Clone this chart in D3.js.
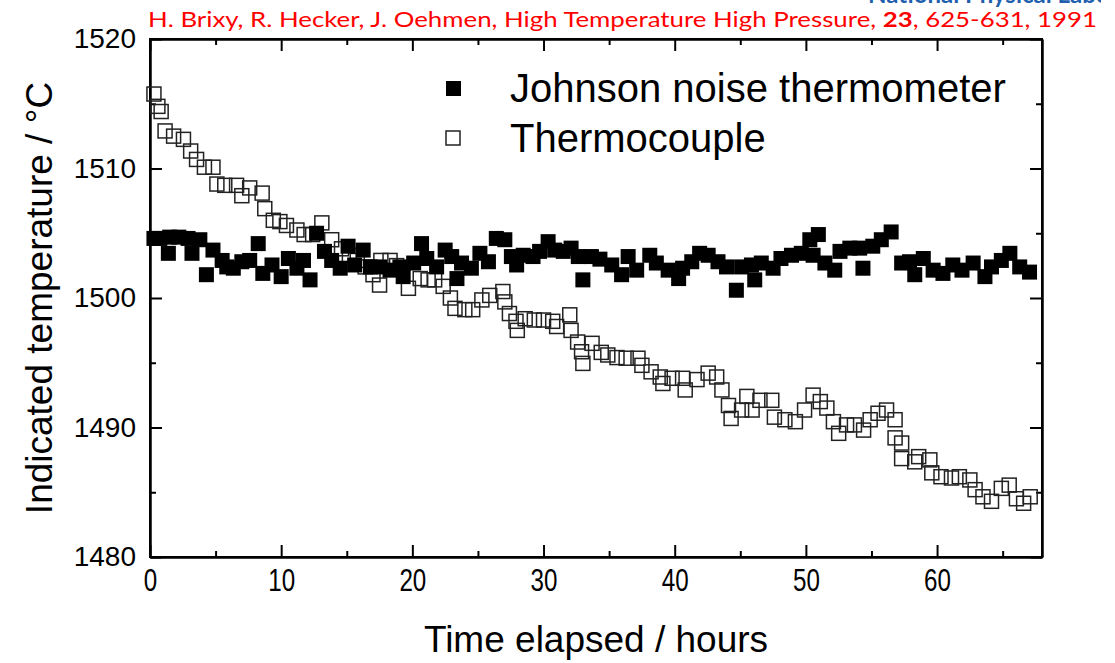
<!DOCTYPE html>
<html>
<head>
<meta charset="utf-8">
<script src="https://cdn.jsdelivr.net/npm/d3@7"></script>
<style>
  body { margin: 0; background: #fff; }
  svg { display: block; }
  .axis path, .axis line { stroke: #000; stroke-width: 2; }
  .axis text { font-family: "Liberation Sans", Arial, sans-serif; fill: #000; }
</style>
</head>
<body>
<script>
// Johnson noise thermometer (filled squares), hours / deg C
var jntHours = [0.3,0.75,1.4,1.5,2.2,2.9,3.2,3.8,4.3,4.8,5.5,5.85,6.35,7.0,7.6,8.25,8.6,9.3,10.0,10.55,
  11.2,11.7,12.2,12.7,13.3,13.85,14.5,15.1,15.6,16.25,16.8,17.5,18.3,19.05,19.3,20.1,20.7,21.1,21.85,22.5,
  23.0,23.4,23.75,24.5,25.15,25.8,26.4,27.05,27.55,27.95,28.45,29.2,29.7,30.35,30.85,31.5,32.1,32.65,33.0,33.65,
  34.3,35.2,35.95,36.45,37.1,38.1,38.6,39.5,40.3,40.6,41.3,41.9,42.55,43.3,43.95,44.7,45.1,45.85,46.1,46.6,
  47.5,48.1,48.9,49.65,50.3,50.55,50.95,51.45,52.2,52.6,53.35,54.1,54.35,55.1,55.75,56.5,57.3,57.9,58.3,58.95,
  59.7,60.45,61.2,61.9,62.75,63.65,64.15,64.9,65.55,66.3,67.05];
var jntTemp = [1504.6,1504.6,1503.45,1504.7,1504.7,1504.6,1503.45,1504.5,1501.8,1503.7,1502.9,1502.4,1502.3,1502.8,1502.9,1504.2,1501.9,1502.55,1501.65,1503.05,
  1502.3,1502.9,1501.4,1505.0,1503.6,1502.9,1502.3,1504.0,1502.55,1503.7,1502.4,1502.4,1502.15,1502.4,1501.65,1502.7,1504.2,1503.05,1502.4,1503.7,
  1503.2,1501.5,1502.7,1502.3,1503.45,1502.8,1504.6,1504.5,1503.2,1502.55,1503.3,1503.2,1503.6,1504.35,1503.7,1503.6,1503.85,1503.2,1501.4,1503.2,
  1503.0,1502.55,1501.8,1503.2,1502.15,1503.3,1502.7,1502.15,1501.5,1502.3,1502.8,1503.45,1503.3,1502.8,1502.4,1500.6,1502.4,1502.55,1501.4,1502.7,
  1502.3,1503.05,1503.3,1503.45,1504.5,1503.3,1504.9,1502.7,1502.15,1503.6,1503.85,1503.85,1502.3,1504.0,1504.5,1505.1,1502.7,1502.8,1501.8,1503.05,
  1502.15,1501.9,1502.55,1502.15,1502.7,1501.65,1502.4,1502.9,1503.45,1502.4,1502.0];

// Thermocouple (open squares)
var tcHours = [0.3,0.6,0.85,1.15,1.8,2.55,3.1,3.55,4.15,4.8,5.1,5.7,6.6,7.0,7.6,8.55,8.75,9.4,9.9,10.4,
  11.2,11.75,12.4,13.1,13.85,14.6,15.2,15.8,16.4,17.0,17.5,17.6,18.3,18.8,19.7,20.6,21.2,21.7,22.35,22.9,
  23.25,24.0,24.6,25.3,25.9,26.9,27.05,27.4,27.9,28.0,28.6,29.3,30.0,30.7,31.0,32.0,32.1,32.6,32.9,33.0,
  33.7,34.4,34.9,35.6,36.3,37.2,37.5,38.2,38.9,39.1,39.8,40.6,40.8,41.7,42.55,43.2,43.6,44.1,44.3,45.1,
  45.5,45.9,46.5,47.4,47.6,48.4,49.2,49.9,50.55,51.1,51.6,52.1,52.5,53.1,53.7,54.4,54.9,55.5,56.15,56.8,
  56.8,57.3,57.3,58.3,58.6,59.45,59.6,60.3,61.1,61.7,62.5,62.9,63.5,64.15,64.9,65.5,66.05,66.6,67.1];
var tcTemp = [1515.75,1514.8,1514.4,1512.9,1512.5,1512.25,1511.35,1510.7,1510.1,1510.1,1508.8,1508.7,1508.7,1507.9,1508.5,1508.1,1506.9,1506.0,1505.9,1505.6,
  1505.25,1504.9,1504.9,1505.8,1504.5,1503.8,1503.3,1502.9,1502.4,1501.8,1501.0,1502.9,1502.9,1502.5,1500.75,1501.5,1501.4,1501.4,1500.9,1500.0,
  1499.2,1499.1,1499.1,1499.85,1500.2,1500.5,1499.7,1498.8,1498.2,1497.5,1498.4,1498.3,1498.3,1498.2,1497.8,1498.7,1497.5,1496.6,1495.85,1494.95,
  1496.5,1495.8,1495.6,1495.4,1495.35,1495.35,1494.8,1494.3,1493.9,1493.4,1493.8,1493.8,1492.9,1493.7,1494.2,1493.9,1492.9,1491.7,1490.7,1491.35,
  1492.4,1491.35,1492.1,1492.1,1490.8,1490.6,1490.45,1491.35,1492.5,1492.0,1491.5,1490.45,1489.55,1490.2,1490.2,1489.8,1490.6,1491.1,1491.35,1490.6,
  1489.2,1488.8,1487.6,1487.35,1487.75,1487.5,1486.5,1486.2,1486.1,1486.2,1485.95,1485.2,1484.65,1484.3,1485.3,1485.55,1484.5,1484.15,1484.65];

var xMajor = [0, 10, 20, 30, 40, 50, 60];
var xMinor = [5, 15, 25, 35, 45, 55, 65];
var yMajor = [1480, 1490, 1500, 1510, 1520];
var yMinor = [1485, 1495, 1505, 1515];
var seriesNames = ["Johnson noise thermometer", "Thermocouple"];

var W = 1115, H = 663;
var margin = {top: 39, right: 73, bottom: 106, left: 150},
    width = W - margin.left - margin.right,
    height = H - margin.top - margin.bottom;

var svg = d3.select("body").append("svg")
    .attr("width", W)
    .attr("height", H);

// source lines at the top (the blue one is cut by the top edge, as in the original)
svg.append("clipPath").attr("id", "topclip")
  .append("rect").attr("x", 0).attr("y", 0).attr("width", 1101).attr("height", H);
svg.append("text")
    .attr("clip-path", "url(#topclip)")
    .attr("x", 868).attr("y", 3)
    .attr("font-family", "Lato, 'Open Sans', sans-serif")
    .attr("font-weight", "bold")
    .attr("font-size", 24)
    .attr("fill", "#1f5fae")
    .text("National Physical Laboratory");

var cite = svg.append("text")
    .attr("x", 148).attr("y", 27)
    .attr("font-family", "Lato, 'Open Sans', sans-serif")
    .attr("font-size", 21)
    .attr("fill", "#ff0000")
    .attr("textLength", 949)
    .attr("lengthAdjust", "spacingAndGlyphs");
cite.append("tspan").text("H. Brixy, R. Hecker, J. Oehmen, High Temperature High Pressure, ");
cite.append("tspan").attr("font-weight", "bold").text("23");
cite.append("tspan").text(", 625-631, 1991");

var g = svg.append("g")
    .attr("transform", "translate(" + margin.left + "," + margin.top + ")");

var x = d3.scaleLinear().domain([0, 68]).range([0, width]);
var y = d3.scaleLinear().domain([1480, 1520]).range([height, 0]);

// axes, ticks pointing inwards on all four sides
g.append("g").attr("class", "axis")
  .attr("transform", "translate(0," + height + ")")
  .call(d3.axisBottom(x).tickValues(xMajor).tickSize(-12).tickPadding(12).tickSizeOuter(0))
  .selectAll("text")
    .attr("font-size", 31)
    .attr("transform", "scale(0.78,1)");
g.append("g").attr("class", "axis")
  .attr("transform", "translate(0," + height + ")")
  .call(d3.axisBottom(x).tickValues(xMinor).tickSize(-6).tickFormat("").tickSizeOuter(0));
g.append("g").attr("class", "axis")
  .call(d3.axisTop(x).tickValues(xMajor).tickSize(-12).tickFormat("").tickSizeOuter(0));
g.append("g").attr("class", "axis")
  .call(d3.axisTop(x).tickValues(xMinor).tickSize(-6).tickFormat("").tickSizeOuter(0));

g.append("g").attr("class", "axis")
  .call(d3.axisLeft(y).tickValues(yMajor).tickFormat(d3.format("d")).tickSize(-12).tickPadding(14).tickSizeOuter(0))
  .selectAll("text")
    .attr("font-size", 28);
g.append("g").attr("class", "axis")
  .call(d3.axisLeft(y).tickValues(yMinor).tickSize(-6).tickFormat("").tickSizeOuter(0));
g.append("g").attr("class", "axis")
  .attr("transform", "translate(" + width + ",0)")
  .call(d3.axisRight(y).tickValues(yMajor).tickSize(-12).tickFormat("").tickSizeOuter(0));
g.append("g").attr("class", "axis")
  .attr("transform", "translate(" + width + ",0)")
  .call(d3.axisRight(y).tickValues(yMinor).tickSize(-6).tickFormat("").tickSizeOuter(0));

g.append("rect")
  .attr("width", width).attr("height", height)
  .attr("fill", "none").attr("stroke", "#000").attr("stroke-width", 2);

// data
var tcData = tcHours.map(function(h, i) { return {x: h, y: tcTemp[i]}; });
var jntData = jntHours.map(function(h, i) { return {x: h, y: jntTemp[i]}; });

var s = 14;
g.selectAll(".tc")
  .data(tcData)
.enter().append("rect")
  .attr("class", "tc")
  .attr("x", function(d) { return x(d.x) - s / 2; })
  .attr("y", function(d) { return y(d.y) - s / 2; })
  .attr("width", s).attr("height", s)
  .attr("fill", "none")
  .attr("stroke", "#222")
  .attr("stroke-width", 1.5);

g.selectAll(".jnt")
  .data(jntData)
.enter().append("rect")
  .attr("class", "jnt")
  .attr("x", function(d) { return x(d.x) - 7.5; })
  .attr("y", function(d) { return y(d.y) - 7.5; })
  .attr("width", 15).attr("height", 15)
  .attr("fill", "#000");

// legend
var leg = svg.append("g").attr("font-family", "'Liberation Sans', Arial, sans-serif");
leg.append("rect").attr("x", 446).attr("y", 81).attr("width", 15).attr("height", 15).attr("fill", "#000");
leg.append("rect").attr("x", 446).attr("y", 131).attr("width", 14).attr("height", 14)
  .attr("fill", "none").attr("stroke", "#222").attr("stroke-width", 1.5);
leg.selectAll(".lt")
  .data(seriesNames)
.enter().append("text")
  .attr("x", 510)
  .attr("y", function(d, i) { return 102 + i * 50; })
  .attr("font-size", 40)
  .text(function(d) { return d; });

// axis titles
svg.append("text")
  .attr("transform", "translate(52," + (margin.top + height / 2) + ") rotate(-90)")
  .attr("text-anchor", "middle")
  .attr("font-family", "'Liberation Sans', Arial, sans-serif")
  .attr("font-size", 37)
  .text("Indicated temperature / °C");
svg.append("text")
  .attr("x", 596).attr("y", 652)
  .attr("text-anchor", "middle")
  .attr("font-family", "'Liberation Sans', Arial, sans-serif")
  .attr("font-size", 37)
  .text("Time elapsed / hours");
</script>
</body>
</html>
